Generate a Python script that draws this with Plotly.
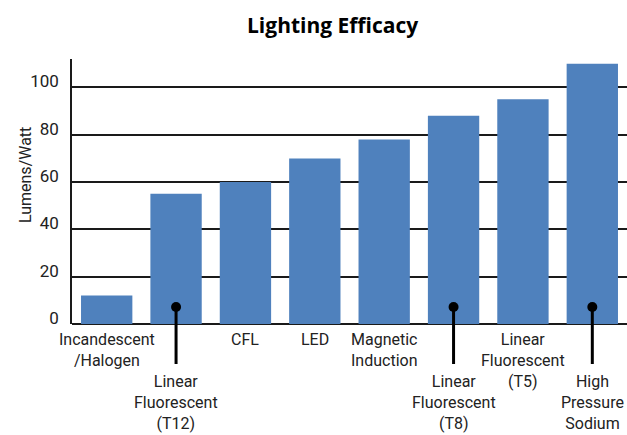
import plotly.graph_objects as go

categories = ["Incandescent<br>/Halogen", "Linear<br>Fluorescent<br>(T12)", "CFL", "LED",
              "Magnetic<br>Induction", "Linear<br>Fluorescent<br>(T8)", "Linear<br>Fluorescent<br>(T5)",
              "High<br>Pressure<br>Sodium"]
efficacy = [12, 55, 60, 70, 78, 88, 95, 110]
label_row = [0, 1, 0, 0, 0, 1, 0, 1]   # 1 = dropped label with leader line
tick_vals = [0, 20, 40, 60, 80, 100]
dot_value = 7.2

FONT = "Roboto, Liberation Sans, sans-serif"
BAR = "#4f81bd"

x_idx = list(range(len(categories)))
fig = go.Figure()
fig.add_trace(go.Bar(x=x_idx, y=efficacy, marker=dict(color=BAR, line=dict(width=0)), hoverinfo="skip"))

drop_x = [i for i in x_idx if label_row[i] == 1]
fig.add_trace(go.Scatter(x=drop_x, y=[dot_value] * len(drop_x), mode="markers",
                         marker=dict(color="black", size=10), cliponaxis=False, hoverinfo="skip"))

annotations = []
shapes = []
H = 435 - 59 - 111
for i, c in enumerate(categories):
    if label_row[i] == 0:
        ys = -4
    else:
        ys = -46
        shapes.append(dict(type="line", xref="x", yref="paper", x0=i, x1=i,
                           y0=dot_value / 112, y1=-40 / H, line=dict(color="black", width=3)))
    annotations.append(dict(x=i, y=0, xref="x", yref="paper", text=c, showarrow=False,
                            yanchor="top", xanchor="center", yshift=ys,
                            font=dict(family=FONT, size=16, color="#222")))

annotations.append(dict(x=0.5, xref="paper", y=1, yref="paper", yshift=18, xshift=-17,
                        text="<b>Lighting Efficacy</b>", showarrow=False, yanchor="bottom",
                        font=dict(family="Open Sans, sans-serif", size=21, color="black")))
annotations.append(dict(x=0, xref="paper", y=0.56, yref="paper", xshift=-58, textangle=-90,
                        text="Lumens/Watt", showarrow=False,
                        font=dict(family=FONT, size=16, color="#222")))

fig.update_layout(
    width=627, height=435,
    margin=dict(l=72, r=0, t=59, b=111),
    plot_bgcolor="white", paper_bgcolor="white",
    showlegend=False, bargap=0.26,
    annotations=annotations, shapes=shapes,
    font=dict(family=FONT, size=16, color="#222"),
)
fig.update_xaxes(range=[-0.5, 7.5], showticklabels=False, showgrid=False, zeroline=False,
                 showline=False, ticks="")
fig.update_yaxes(range=[0, 112], tickvals=tick_vals, showgrid=True, gridcolor="#1a1a1a", gridwidth=1.5,
                 zeroline=True, zerolinecolor="#1a1a1a", zerolinewidth=1.5,
                 showline=True, linecolor="#1a1a1a", linewidth=1.5, ticks="",
                 ticklabelshift=-6, ticklabelstandoff=8,
                 tickfont=dict(family=FONT, size=17, color="#222"))
fig.write_html("out.html", config={"displayModeBar": False},
               post_script="document.body.style.margin='0';document.body.style.overflow='hidden';")
